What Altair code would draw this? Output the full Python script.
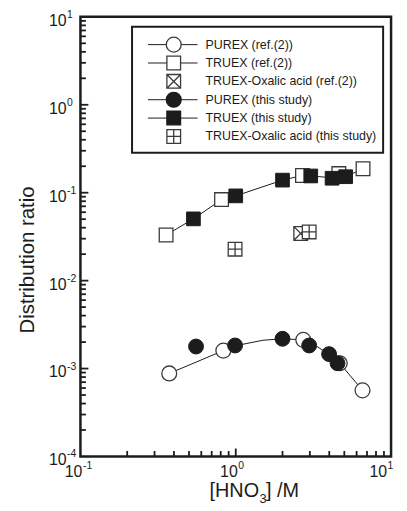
import altair as alt
import pandas as pd

# ---------------- data ----------------
purex_ref_x = [0.373, 0.832, 2.72, 4.67, 6.55]
purex_ref_y = [0.00088, 0.0016, 0.00212, 0.00115, 0.000565]
truex_ref_x = [0.356, 0.81, 2.69, 4.61, 6.6]
truex_ref_y = [0.033, 0.0835, 0.157, 0.165, 0.1875]
oxalic_ref_x = [2.62]
oxalic_ref_y = [0.0344]
purex_this_x = [0.555, 0.99, 2.0, 2.97, 3.99, 4.52]
purex_this_y = [0.00178, 0.00183, 0.00218, 0.00183, 0.00146, 0.00115]
truex_this_x = [0.534, 1.0, 2.0, 3.04, 4.17, 5.1]
truex_this_y = [0.0504, 0.092, 0.139, 0.155, 0.146, 0.152]
oxalic_this_x = [0.99, 2.97]
oxalic_this_y = [0.0228, 0.0358]

# curves drawn through the points
purex_curve_x = [0.373, 0.832, 1.0, 1.5, 2.0, 2.72, 3.3, 4.0, 4.67, 6.55]
purex_curve_y = [0.00088, 0.0016, 0.00182, 0.0021, 0.00218, 0.00212, 0.0018, 0.00145, 0.00115, 0.000565]
truex_curve_x = [0.356, 0.534, 0.81, 1.0, 2.0, 2.69, 3.04, 4.17, 5.1, 6.6]
truex_curve_y = [0.033, 0.0504, 0.0835, 0.092, 0.139, 0.157, 0.155, 0.148, 0.152, 0.1875]

legend_labels = [
    "PUREX (ref.(2))",
    "TRUEX (ref.(2))",
    "TRUEX-Oxalic acid (ref.(2))",
    "PUREX (this study)",
    "TRUEX (this study)",
    "TRUEX-Oxalic acid (this study)",
]

x_major_ticks = [1]
x_minor_ticks = [0.2, 0.3, 0.4, 0.5, 0.6, 0.7, 0.8, 0.9, 2, 3, 4, 5, 6, 7, 8, 9]
y_major_ticks = [1e-3, 1e-2, 1e-1, 1]
y_minor_ticks = [k * 10.0 ** d for d in range(-4, 1) for k in range(2, 10)]

x_label_vals = [0.1, 1, 10]
x_label_exps = ["-1", "0", "1"]
y_label_vals = [1e-4, 1e-3, 1e-2, 1e-1, 1, 10]
y_label_exps = ["-4", "-3", "-2", "-1", "0", "1"]

# ---------------- styling ----------------
W, H = 313, 443
INK = "#1c1c1c"
EDGE = "#3a3a3a"
FONT = "Liberation Sans"
CROSS = "M-1,-1L1,-1L1,1L-1,1Z M-1,-1L1,1 M1,-1L-1,1"
PLUS = "M-1,-1L1,-1L1,1L-1,1Z M0,-1L0,1 M-1,0L1,0"
CIRC_SIZE = 225
SQ_SIZE = 190
LAB = 16
EXP = 10.5

xs = alt.Scale(type="log", domain=[0.1, 10], nice=False)
ys = alt.Scale(type="log", domain=[1e-4, 10], nice=False)


def df(xv, yv):
    return pd.DataFrame({"x": xv, "y": yv})


def enc(ch):
    return ch.encode(
        x=alt.X("x:Q", scale=xs, axis=None),
        y=alt.Y("y:Q", scale=ys, axis=None),
    )


layers = []

# curves
layers.append(enc(alt.Chart(df(truex_curve_x, truex_curve_y)).mark_line(color=INK, strokeWidth=1)))
layers.append(enc(alt.Chart(df(purex_curve_x, purex_curve_y)).mark_line(color=INK, strokeWidth=1)))

# open markers (ref.)
layers.append(enc(alt.Chart(df(truex_ref_x, truex_ref_y)).mark_point(
    shape="square", size=SQ_SIZE, filled=True, fill="white", stroke=EDGE, strokeWidth=1.3, opacity=1)))
layers.append(enc(alt.Chart(df(purex_ref_x, purex_ref_y)).mark_point(
    shape="circle", size=CIRC_SIZE, filled=True, fill="white", stroke=EDGE, strokeWidth=1.3, opacity=1)))
layers.append(enc(alt.Chart(df(oxalic_ref_x, oxalic_ref_y)).mark_point(
    shape=CROSS, size=SQ_SIZE, filled=True, fill="white", stroke=EDGE, strokeWidth=1.3, opacity=1)))

# filled markers (this study)
layers.append(enc(alt.Chart(df(truex_this_x, truex_this_y)).mark_point(
    shape="square", size=SQ_SIZE, filled=True, fill=INK, stroke=INK, strokeWidth=1, opacity=1)))
layers.append(enc(alt.Chart(df(purex_this_x, purex_this_y)).mark_point(
    shape="circle", size=CIRC_SIZE, filled=True, fill=INK, stroke=INK, strokeWidth=1, opacity=1)))
layers.append(enc(alt.Chart(df(oxalic_this_x, oxalic_this_y)).mark_point(
    shape=PLUS, size=SQ_SIZE, filled=True, fill="white", stroke=EDGE, strokeWidth=1.3, opacity=1)))

# inward ticks
layers.append(alt.Chart(pd.DataFrame({"v": x_minor_ticks})).mark_rule(color=INK, strokeWidth=1.8).encode(
    x=alt.X("v:Q", scale=xs, axis=None), y=alt.value(H), y2=alt.value(H - 5.5)))
layers.append(alt.Chart(pd.DataFrame({"v": x_major_ticks})).mark_rule(color=INK, strokeWidth=1.8).encode(
    x=alt.X("v:Q", scale=xs, axis=None), y=alt.value(H), y2=alt.value(H - 8)))
layers.append(alt.Chart(pd.DataFrame({"v": y_minor_ticks})).mark_rule(color=INK, strokeWidth=1.8).encode(
    y=alt.Y("v:Q", scale=ys, axis=None), x=alt.value(0), x2=alt.value(5.5)))
layers.append(alt.Chart(pd.DataFrame({"v": y_major_ticks})).mark_rule(color=INK, strokeWidth=1.8).encode(
    y=alt.Y("v:Q", scale=ys, axis=None), x=alt.value(0), x2=alt.value(8)))

# tick labels: "10" with superscript exponent
xl = pd.DataFrame({"v": x_label_vals, "e": x_label_exps})
for cond, dx in [("datum.v < 10", 2), ("datum.v >= 10", -4)]:
    base = alt.Chart(xl).transform_filter(cond)
    layers.append(base.mark_text(align="right", baseline="middle", fontSize=LAB, font=FONT, color=INK, dx=dx).encode(
        x=alt.X("v:Q", scale=xs, axis=None), y=alt.value(H + 16), text=alt.value("10")))
    layers.append(base.mark_text(align="left", baseline="middle", fontSize=EXP, font=FONT, color=INK, dx=dx + 0.5).encode(
        x=alt.X("v:Q", scale=xs, axis=None), y=alt.value(H + 10), text="e:N"))

yl = pd.DataFrame({"v": y_label_vals, "e": y_label_exps})
layers.append(alt.Chart(yl).mark_text(align="right", baseline="middle", fontSize=LAB, font=FONT, color=INK, dy=4).encode(
    y=alt.Y("v:Q", scale=ys, axis=None), x=alt.value(-14), text=alt.value("10")))
layers.append(alt.Chart(yl).mark_text(align="left", baseline="middle", fontSize=EXP, font=FONT, color=INK, dy=-2).encode(
    y=alt.Y("v:Q", scale=ys, axis=None), x=alt.value(-13.5), text="e:N"))

# axis titles
one = pd.DataFrame({"t": ["Distribution ratio"]})
layers.append(alt.Chart(one).mark_text(angle=270, align="center", baseline="middle", fontSize=20.5, font=FONT, color=INK).encode(
    x=alt.value(-53), y=alt.value(245), text="t:N"))
xt = pd.DataFrame({"a": ["[HNO"], "b": ["3"], "c": ["] /M"]})
layers.append(alt.Chart(xt).mark_text(align="right", baseline="alphabetic", fontSize=20, font=FONT, color=INK).encode(
    x=alt.value(180), y=alt.value(H + 41), text="a:N"))
layers.append(alt.Chart(xt).mark_text(align="left", baseline="alphabetic", fontSize=13, font=FONT, color=INK).encode(
    x=alt.value(180.5), y=alt.value(H + 47), text="b:N"))
layers.append(alt.Chart(xt).mark_text(align="left", baseline="alphabetic", fontSize=20, font=FONT, color=INK).encode(
    x=alt.value(187), y=alt.value(H + 41), text="c:N"))

# legend box
layers.append(alt.Chart(pd.DataFrame({"k": [0]})).mark_rect(fill="white", stroke=INK, strokeWidth=2).encode(
    x=alt.value(52), x2=alt.value(305), y=alt.value(10), y2=alt.value(137)))

leg_shapes = ["circle", "square", CROSS, "circle", "square", PLUS]
leg_fills = ["white", "white", "white", INK, INK, "white"]
leg_lines = [True, True, False, True, True, False]
for i, (lab, shp, fil, ln) in enumerate(zip(legend_labels, leg_shapes, leg_fills, leg_lines)):
    yy = 28 + 18.5 * i
    d = pd.DataFrame({"t": [lab]})
    if ln:
        layers.append(alt.Chart(d).mark_rule(color=INK, strokeWidth=1).encode(
            x=alt.value(68), x2=alt.value(118), y=alt.value(yy)))
    size = CIRC_SIZE if shp == "circle" else SQ_SIZE
    layers.append(alt.Chart(d).mark_point(shape=shp, size=size, filled=True, fill=fil,
                                          stroke=(EDGE if fil == "white" else INK),
                                          strokeWidth=1.3, opacity=1).encode(
        x=alt.value(94), y=alt.value(yy)))
    layers.append(alt.Chart(d).mark_text(align="left", baseline="middle", fontSize=12.5, font=FONT, color=INK).encode(
        x=alt.value(126), y=alt.value(yy), text="t:N"))

chart = alt.layer(*layers).properties(
    width=W, height=H,
    background="white",
    padding={"left": 73, "top": 7, "right": 8, "bottom": 50},
    autosize=alt.AutoSizeParams(type="none"),
).configure_view(stroke=INK, strokeWidth=2.5)

chart.save("out.html", embed_options={"renderer": "svg", "actions": False})
